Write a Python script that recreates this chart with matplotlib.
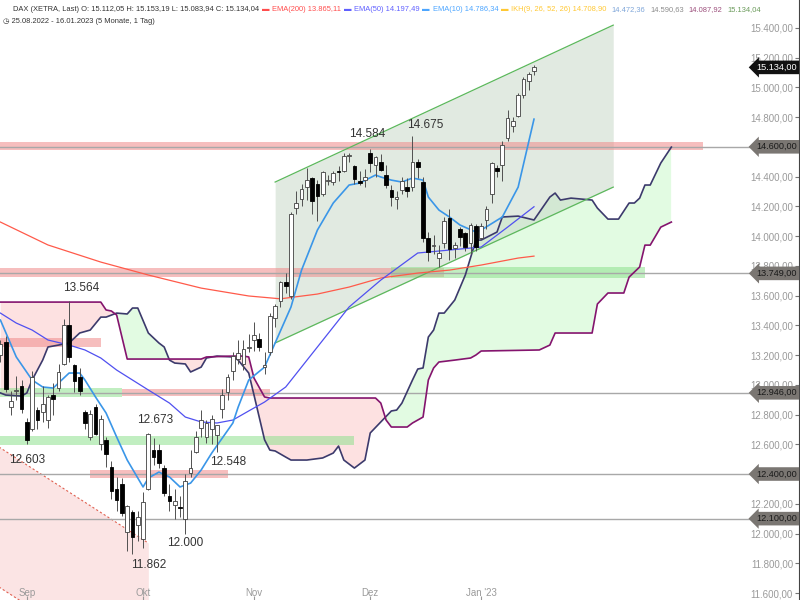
import matplotlib
matplotlib.use('Agg')
import matplotlib.pyplot as plt
from matplotlib.patches import Polygon
import matplotlib.transforms as mtransforms
import numpy as np

plt.rcParams['font.family'] = ['Liberation Sans Narrow', 'Liberation Sans', 'DejaVu Sans']

# DAX daily candles, XETRA trading days 25.08.2022 .. 16.01.2023 (day index 0..101)
opens = [13200, 13290, 12850, 12960, 12990, 12750, 12700, 12830, 12820, 12765,
         12930, 12980, 13140, 13400, 13130, 13050, 12820, 12650, 12850, 12600,
         12630, 12450, 12300, 12330, 12010, 12145, 12057, 11960, 12300, 12560,
         12560, 12440, 12250, 12190, 12180, 12100, 12410, 12550, 12710, 12650,
         12700, 12660, 12840, 12950, 13090, 13170, 13140, 13250, 13300, 13310,
         13120, 13220, 13450, 13560, 13690, 13600, 14190, 14250, 14330, 14390,
         14350, 14280, 14370, 14360, 14440, 14440, 14540, 14470, 14370, 14380,
         14555, 14480, 14500, 14410, 14310, 14250, 14310, 14330, 14330, 14500,
         14360, 13990, 13930, 13850, 13950, 14120, 13920, 14050, 14020, 13950,
         14070, 13990, 14110, 14280, 14460, 14480, 14660, 14740, 14810, 14950,
         15040, 15112]
highs = [13300, 13330, 12960, 13060, 13030, 12780, 13090, 12850, 12990, 12930,
         13010, 13140, 13440, 13564, 13140, 13110, 12830, 12830, 12870, 12800,
         12650, 12490, 12380, 12370, 12190, 12160, 12150, 12280, 12673, 12640,
         12600, 12460, 12330, 12300, 12250, 12400, 12560, 12690, 12830, 12760,
         12800, 12730, 12970, 13070, 13220, 13300, 13300, 13340, 13420, 13350,
         13220, 13480, 13540, 13700, 13750, 14160, 14300, 14350, 14460, 14400,
         14380, 14440, 14410, 14440, 14470, 14560, 14560, 14480, 14440, 14450,
         14584, 14540, 14550, 14480, 14340, 14300, 14400, 14390, 14675, 14520,
         14400, 14030, 14010, 13940, 14130, 14180, 13960, 14060, 14030, 14090,
         14080, 14090, 14200, 14500, 14480, 14640, 14850, 14800, 14960, 15070,
         15100, 15153]
lows = [13150, 12950, 12800, 12900, 12810, 12603, 12690, 12700, 12750, 12710,
        12800, 12960, 13130, 13150, 12950, 12930, 12700, 12630, 12660, 12560,
        12450, 12230, 12150, 12120, 11880, 11862, 11950, 11900, 12290, 12460,
        12440, 12250, 12150, 12100, 12110, 12000, 12380, 12540, 12650, 12610,
        12600, 12548, 12780, 12900, 13030, 13140, 13100, 13220, 13230, 13230,
        13070, 13200, 13390, 13520, 13620, 13580, 14150, 14200, 14240, 14150,
        14100, 14270, 14340, 14340, 14370, 14430, 14500, 14350, 14340, 14330,
        14430, 14400, 14440, 14320, 14200, 14180, 14280, 14260, 14300, 14390,
        13960, 13830, 13880, 13790, 13920, 13840, 13850, 13930, 13900, 13880,
        13900, 13980, 14050, 14220, 14400, 14370, 14640, 14700, 14800, 14930,
        14980, 15084]
closes = [13271, 12971, 12893, 12961, 12835, 12631, 13050, 12761, 12872, 12916,
          12904, 13088, 13402, 13189, 13028, 12956, 12741, 12803, 12671, 12767,
          12532, 12284, 12228, 12140, 12183, 11976, 12114, 12209, 12671, 12517,
          12471, 12273, 12220, 12219, 12172, 12355, 12438, 12649, 12765, 12742,
          12767, 12731, 12931, 13053, 13195, 13211, 13243, 13254, 13338, 13256,
          13131, 13460, 13533, 13688, 13667, 14146, 14225, 14313, 14379, 14234,
          14266, 14431, 14380, 14422, 14428, 14539, 14541, 14383, 14356, 14397,
          14490, 14529, 14447, 14344, 14261, 14264, 14371, 14306, 14497, 14461,
          13986, 13894, 13943, 13885, 14098, 13914, 13941, 13995, 13925, 14071,
          13924, 14069, 14181, 14490, 14436, 14610, 14792, 14775, 14948, 15058,
          15087, 15134]

# indicator lines: (day index, price)
ema10_day = [0, 3, 6, 8, 10, 11, 13, 15, 16, 18, 20, 22, 24, 27, 28, 30, 32, 34, 36, 38,
             40, 42, 44, 45, 47, 50, 52, 55, 57, 60, 63, 66, 68, 71, 72, 74, 76, 78, 80, 81,
             83, 85, 87, 90, 91, 95, 98, 101]
ema10 = [13435, 13187, 13032, 12985, 12978, 13012, 13079, 13079, 13032, 12918, 12810, 12649,
         12494, 12313, 12373, 12413, 12380, 12313, 12339, 12427, 12541, 12642, 12743, 12850,
         13032, 13119, 13281, 13523, 13771, 14040, 14222, 14343, 14356, 14410, 14397, 14376,
         14363, 14390, 14376, 14262, 14175, 14128, 14074, 14027, 14040, 14128, 14329, 14786]
ema50_day = [0, 3, 6, 9, 13, 16, 19, 22, 25, 28, 32, 35, 38, 41, 44, 47, 50, 54, 60, 66,
             72, 79, 85, 91, 96, 101]
ema50 = [13482, 13415, 13368, 13301, 13267, 13234, 13180, 13099, 13032, 12965, 12877, 12783,
         12750, 12743, 12763, 12824, 12884, 12985, 13254, 13523, 13704, 13886, 13906, 13926,
         14060, 14197]
ema200_day = [0, 9, 19, 28, 38, 47, 53, 60, 66, 72, 79, 85, 91, 98, 101]
ema200 = [14094, 13940, 13825, 13738, 13650, 13597, 13578, 13610, 13657, 13718, 13751, 13771,
          13805, 13852, 13865]

# Ichimoku cloud borders (shifted 26 days ahead)
spanA_day = [0, 1, 4, 5, 6, 8, 9, 11, 13, 15, 17, 19, 20, 22, 24, 25, 26, 28, 30, 31,
             32, 33, 35, 36, 38, 39, 41, 44, 45, 47, 48, 50, 51, 52, 54, 55, 58, 61, 63, 64,
             65, 67, 69, 70, 72, 74, 75, 76, 78, 79, 80, 81, 82, 83, 84, 86, 88, 90, 91, 94,
             95, 98, 101, 104, 105, 106, 108, 112, 113, 115, 117, 119, 120, 121, 122, 123, 125, 127]
spanA = [12945, 12931, 12924, 12945, 13032, 13166, 13254, 13267, 13281, 13348, 13368, 13455,
         13455, 13482, 13476, 13516, 13516, 13348, 13281, 13254, 13166, 13146, 13140, 13086,
         13119, 13180, 13193, 13187, 13166, 13079, 12931, 12630, 12561, 12555, 12514, 12494,
         12494, 12508, 12541, 12588, 12494, 12440, 12494, 12676, 12750, 12824, 12830, 12877,
         13032, 13106, 13113, 13321, 13368, 13482, 13482, 13570, 13738, 13973, 13973, 14027,
         14128, 14134, 14108, 14262, 14289, 14242, 14255, 14242, 14188, 14114, 14114, 14222,
         14222, 14255, 14343, 14343, 14491, 14598]
spanB_day = [0, 19, 20, 21, 22, 24, 38, 39, 44, 46, 47, 48, 50, 51, 71, 72, 73, 74, 77, 78,
             80, 81, 82, 83, 86, 89, 90, 91, 102, 104, 105, 112, 113, 115, 118, 119, 121, 122,
             123, 125, 127]
spanB = [13556, 13556, 13503, 13496, 13469, 13173, 13173, 13187, 13193, 13193, 13187, 13045,
         12918, 12911, 12911, 12877, 12763, 12716, 12716, 12743, 12783, 13032, 13113, 13153,
         13166, 13180, 13200, 13227, 13234, 13267, 13348, 13348, 13543, 13617, 13617, 13724,
         13792, 13939, 13939, 14060, 14094]

# drawn trend channel and old down trend
channel_day = [52, 116]
channel_top = [14363, 15418]
channel_bottom = [13281, 14329]
downtrend_day = [-1, 28]
downtrend_top = [12598, 11936]
downtrend_bottom = [11657, 10995]

# support / resistance zones: start day, end day, low, high, kind
zone_start = [0, 0, 74, 0, 0, 23, 0, 17]
zone_end = [133, 84, 122, 19, 23, 51, 67, 43]
zone_low = [14580, 13725, 13720, 13255, 12918, 12924, 12595, 12373]
zone_high = [14632, 13785, 13790, 13315, 12978, 12971, 12655, 12427]
zone_kind = ['r', 'r', 'g', 'r', 'g', 'r', 'g', 'r']

level_prices = [14600, 13749, 12946, 12400, 12100]

swing_day = [13, 5, 25, 28, 35, 41, 70, 78]
swing_price = [13564, 12603, 11862, 12673, 12000, 12548, 14584, 14675]

month_day = [5, 27, 48, 70, 91]
month_labels = ['Sep', 'Okt', 'Nov', 'Dez', "Jan '23"]
price_ticks = list(range(11600, 15401, 200))

header_ohlc = 'DAX (XETRA, Last) O: 15.112,05 H: 15.153,19 L: 15.083,94 C: 15.134,04'
header_range = '◷ 25.08.2022 - 16.01.2023 (5 Monate, 1 Tag)'
legend_items = [('▬', '#ff4d4d'), ('EMA(200) 13.865,11', '#ff4d4d'),
                ('▬', '#6060ff'), ('EMA(50) 14.197,49', '#6060ff'),
                ('▬', '#4da6ff'), ('EMA(10) 14.786,34', '#4da6ff'),
                ('▬', '#ffc833'), ('IKH(9, 26, 52, 26) 14.708,90', '#ffc833'),
                ('14.472,36', '#7fa6d9'), ('14.590,63', '#8c8c8c'),
                ('14.087,92', '#9c4f7c'), ('15.134,04', '#6a9a5a')]


def de(v, dec=0):
    s = f'{v:,.{dec}f}'
    return s.replace(',', '#').replace('.', ',').replace('#', '.')


fig = plt.figure(figsize=(8, 6), dpi=100)
ax = fig.add_axes([0, 0, 0.999, 1])
ax.set_xlim(-0.08, 151.2)
ax.set_ylim(11553, 15587)

# old down trend area bottom left
ax.fill_between(downtrend_day, downtrend_top, downtrend_bottom, color='#fbe4e4', lw=0, zorder=0.5)
ax.plot(downtrend_day, downtrend_top, color='#e06050', lw=0.8, ls=(0, (2, 2)), zorder=0.6)
ax.plot(downtrend_day, downtrend_bottom, color='#e06050', lw=0.8, ls=(0, (2, 2)), zorder=0.6)


# Ichimoku cloud: green where span A above span B, red otherwise
def band_poly(xs, ys, edge, **kw):
    pts = np.column_stack([np.r_[xs, xs[-1], xs[0]], np.r_[ys, edge, edge]])
    return Polygon(pts, closed=True, **kw)


lo, hi = 10000, 17000
green = band_poly(spanA_day, spanA, lo, fc='#e2fbe2', ec='none', zorder=0.7)
ax.add_patch(green)
green.set_clip_path(band_poly(spanB_day, spanB, hi, transform=ax.transData))
red = band_poly(spanB_day, spanB, lo, fc='#fde1e1', ec='none', zorder=0.7)
ax.add_patch(red)
red.set_clip_path(band_poly(spanA_day, spanA, hi, transform=ax.transData))

# trend channel
ax.fill_between(channel_day, channel_bottom, channel_top, color='#c5d6c5', alpha=0.5, lw=0, zorder=0.8)
ax.plot(channel_day, channel_top, color='#5cb85c', lw=0.9, zorder=2.1)
ax.plot(channel_day, channel_bottom, color='#5cb85c', lw=0.9, zorder=2.1)

# zones
for s, e, l, h, k in zip(zone_start, zone_end, zone_low, zone_high, zone_kind):
    col = '#f08a8a' if k == 'r' else '#8ee08e'
    ax.fill_between([s, e], l, h, color=col, alpha=0.55, lw=0, zorder=1)

for p in level_prices:
    ax.axhline(p, color='#a8a8a8', lw=1.0, zorder=1.2)

ax.plot(spanA_day, spanA, color='#3c3a6c', lw=1.2, zorder=2)
ax.plot(spanB_day, spanB, color='#84146e', lw=1.2, zorder=2)

ax.plot(ema200_day, ema200, color='#ff5a4a', lw=0.9, zorder=2.2)
ax.plot(ema50_day, ema50, color='#5050f0', lw=0.9, zorder=2.2)
ax.plot(ema10_day, ema10, color='#3a96e8', lw=1.2, zorder=2.3)

# candles
days = np.arange(len(closes))
o = np.array(opens, float)
c = np.array(closes, float)
up = c >= o
ax.vlines(days, lows, highs, color='#505050', lw=0.7, zorder=3)
body_lo = np.minimum(o, c)
body_h = np.maximum(np.abs(c - o), 6)
ax.bar(days[up], body_h[up], bottom=body_lo[up], width=0.7, color='white',
       edgecolor='#404040', lw=0.6, zorder=3.1)
ax.bar(days[~up], body_h[~up], bottom=body_lo[~up], width=0.7, color='black',
       edgecolor='black', lw=0.6, zorder=3.1)

# swing high / low labels
swing_off = [(9, 9), (0, -12), (12, -8), (5, 10), (0, -7), (8, -7), (-2, 11), (9, 8)]
for d, p, off in zip(swing_day, swing_price, swing_off):
    ax.annotate(de(p), xy=(d, p), xytext=off, textcoords='offset points',
                ha='center', va='center', fontsize=8.5, color='#333333', zorder=4)

# axes styling
for side in ['left', 'top', 'bottom']:
    ax.spines[side].set_visible(False)
ax.spines['right'].set_color('#444444')

ax.set_yticks(price_ticks)
# labels that sit exactly under a price tag stay empty
ax.set_yticklabels(['' if p in level_prices else de(p, 2) for p in price_ticks])
ax.yaxis.tick_right()
ax.tick_params(axis='y', direction='in', length=3, pad=-4.5, labelsize=7,
               labelcolor='#9a9a9a', color='#777777')
for t in ax.yaxis.get_major_ticks():
    t.label2.set_horizontalalignment('right')

ax.set_xticks(month_day)
ax.set_xticklabels(month_labels)
ax.tick_params(axis='x', direction='in', length=3, pad=-9, labelsize=7,
               labelcolor='#9a9a9a', color='#999999')

# price tags on the right
trans = mtransforms.blended_transform_factory(ax.transAxes, ax.transData)
for p in level_prices:
    ax.text(0.997, p, de(p, 2), transform=trans, ha='right', va='center', fontsize=6.6,
            color='#1a1a1a', zorder=6,
            bbox=dict(boxstyle='larrow,pad=0.25', fc='#7a7672', ec='none'))
ax.text(0.997, closes[-1], de(closes[-1], 2), transform=trans, ha='right', va='center',
        fontsize=6.6, color='white', zorder=6,
        bbox=dict(boxstyle='larrow,pad=0.25', fc='#111111', ec='none'))

# header lines
fs = 5.4
prev = fig.text(0.016, 0.979, header_ohlc, color='#333333', fontsize=fs, va='bottom')
for s, col in legend_items:
    gap = 2 if s == '▬' or not s[0].isdigit() else 3.5
    prev = ax.annotate(s, xy=(1, 0), xycoords=prev, xytext=(gap, 0),
                       textcoords='offset points', color=col, fontsize=fs,
                       va='bottom', ha='left', annotation_clip=False)

fig.text(0.004, 0.958, header_range, color='#333333', fontsize=fs, va='bottom')

fig.savefig('out.png', dpi=100)
